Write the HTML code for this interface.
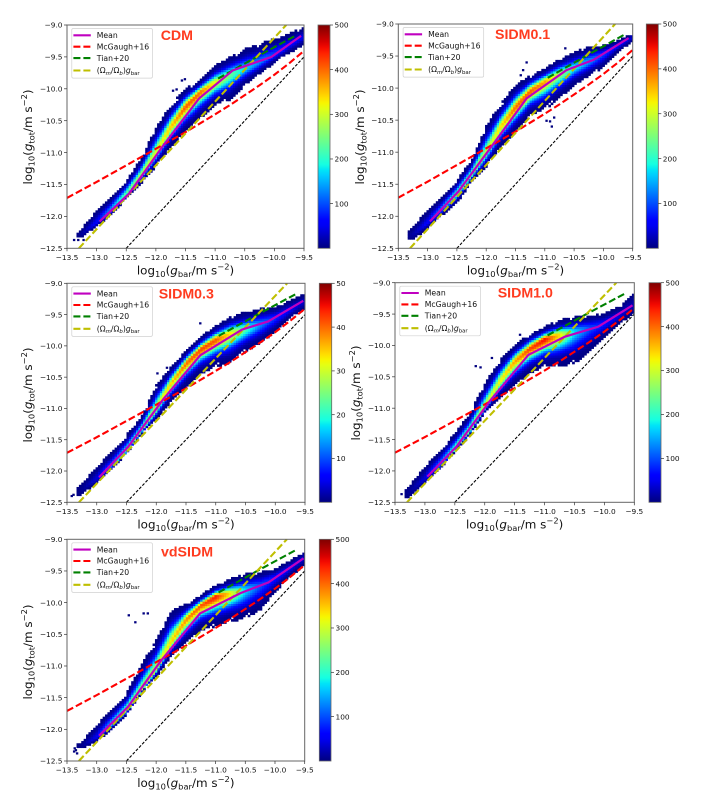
<!DOCTYPE html>
<html>
<head>
<meta charset="utf-8">
<title>Radial acceleration relation panels</title>
<style>
html,body{margin:0;padding:0;background:#fff;width:704px;height:812px;overflow:hidden}
svg{display:block;filter:blur(0.35px)}
text{font-family:"DejaVu Sans","Liberation Sans",sans-serif;fill:#111}
</style>
</head>
<body>
<svg id="figure" width="704" height="812" viewBox="0 0 704 812" xmlns="http://www.w3.org/2000/svg"></svg>
<script>
const xTicks=[-13.5,-13,-12.5,-12,-11.5,-11,-10.5,-10,-9.5];
const yTicks=[-12.5,-12,-11.5,-11,-10.5,-10,-9.5,-9];
const cbarTicks=[100,200,300,400,500];

const gbarBins=[-13.35,-13.25,-13,-12.75,-12.5,-12.25,-12,-11.75,-11.5,-11.25,-11,-10.75,-10.5,-10.25,-10,-9.75,-9.5];

const cdmRidge=[-12.3,-12.27,-12.1,-11.88,-11.65,-11.35,-11,-10.6,-10.28,-10.05,-9.9,-9.78,-9.68,-9.58,-9.45,-9.31,-9.18];
const cdmUpper=[-12.27,-12.19,-11.9,-11.69,-11.43,-11.09,-10.6,-10.25,-9.99,-9.86,-9.63,-9.5,-9.37,-9.29,-9.21,-9.13,-9.03];
const cdmLower=[-12.33,-12.32,-12.16,-11.98,-11.72,-11.48,-11.22,-10.91,-10.67,-10.46,-10.25,-10.18,-9.94,-9.76,-9.6,-9.44,-9.31];
const cdmPeak=[3,12,60,140,240,280,310,350,410,400,320,240,170,130,90,65,45];
const cdmMeanX=[-12.95,-12.45,-11.9,-11.27,-10.7,-10.45,-10.05,-9.55];
const cdmMeanY=[-12.08,-11.64,-10.92,-10.15,-9.71,-9.63,-9.5,-9.17];
const cdmOutX=[-11.56,-11.65,-11.51,-11.71,-13.38,-13.31,-13.22];
const cdmOutY=[-9.87,-10.01,-9.85,-10.03,-12.37,-12.37,-12.37];

const sidm01Ridge=[-12.32,-12.28,-12.1,-11.88,-11.65,-11.35,-11,-10.6,-10.3,-10.05,-9.9,-9.78,-9.68,-9.58,-9.47,-9.33,-9.2];
const sidm01Upper=[-12.25,-12.16,-11.9,-11.69,-11.43,-11.12,-10.58,-10.24,-9.95,-9.8,-9.69,-9.54,-9.43,-9.35,-9.33,-9.25,-9.15];
const sidm01Lower=[-12.36,-12.37,-12.19,-11.98,-11.8,-11.46,-11.23,-10.91,-10.68,-10.42,-10.34,-10.16,-9.95,-9.82,-9.67,-9.43,-9.28];
const sidm01Peak=[3,15,60,140,240,270,290,340,400,410,370,280,190,140,90,60,35];
const sidm01MeanX=[-12.96,-12.48,-11.9,-11.31,-10.63,-10.17,-9.57];
const sidm01MeanY=[-12.08,-11.62,-10.9,-10.16,-9.72,-9.56,-9.22];
const sidm01OutX=[-11.31,-11.37,-11.41,-10.97,-10.88,-10.84,-10.91,-10.65];
const sidm01OutY=[-9.6,-9.72,-9.8,-10.51,-10.6,-10.46,-10.52,-9.38];

const sidm03Ridge=[-12.38,-12.3,-12.12,-11.92,-11.68,-11.35,-11,-10.6,-10.28,-10.05,-9.9,-9.8,-9.73,-9.65,-9.56,-9.42,-9.28];
const sidm03Upper=[-12.3,-12.2,-11.93,-11.69,-11.42,-11.13,-10.62,-10.33,-10.07,-9.85,-9.67,-9.53,-9.45,-9.4,-9.37,-9.27,-9.16];
const sidm03Lower=[-12.42,-12.36,-12.2,-11.98,-11.72,-11.42,-11.18,-10.89,-10.65,-10.44,-10.33,-10.28,-10.09,-9.96,-9.77,-9.56,-9.4];
const sidm03Peak=[3,8,40,130,240,270,310,350,400,420,410,330,220,130,80,50,30];
const sidm03MeanX=[-12.96,-12.47,-11.88,-11.26,-10.56,-10.12,-9.53];
const sidm03MeanY=[-12.1,-11.61,-10.85,-10.15,-9.74,-9.61,-9.28];
const sidm03OutX=[-11.26,-11.98,-11.82,-13.39,-13.42];
const sidm03OutY=[-9.64,-10.44,-10.35,-12.38,-12.4];

const sidm10Ridge=[-12.38,-12.32,-12.12,-11.9,-11.65,-11.35,-10.98,-10.58,-10.25,-10.05,-9.9,-9.83,-9.78,-9.72,-9.65,-9.52,-9.35];
const sidm10Upper=[-12.3,-12.22,-11.93,-11.67,-11.4,-11.08,-10.6,-10.23,-9.99,-9.81,-9.7,-9.59,-9.54,-9.52,-9.49,-9.38,-9.14];
const sidm10Lower=[-12.42,-12.41,-12.2,-11.98,-11.69,-11.43,-11.08,-10.84,-10.63,-10.44,-10.34,-10.34,-10.29,-10.1,-9.86,-9.65,-9.49];
const sidm10Peak=[3,10,40,130,240,270,300,320,370,420,450,340,170,100,70,40,20];
const sidm10MeanX=[-12.96,-12.47,-11.91,-11.27,-10.66,-10.1,-9.53];
const sidm10MeanY=[-12.09,-11.61,-10.88,-10.15,-9.86,-9.7,-9.36];
const sidm10OutX=[-12.15,-12.07,-11.88,-11.41,-13.39];
const sidm10OutY=[-10.33,-10.35,-10.2,-9.83,-12.37];

const vdRidge=[-12.28,-12.27,-12.12,-11.92,-11.7,-11.38,-11.05,-10.63,-10.27,-10.04,-9.9,-9.85,-9.8,-9.72,-9.6,-9.45,-9.28];
const vdUpper=[-12.25,-12.19,-11.93,-11.67,-11.43,-10.98,-10.58,-10.12,-10.01,-9.88,-9.72,-9.62,-9.54,-9.51,-9.46,-9.33,-9.19];
const vdLower=[-12.3,-12.3,-12.19,-12.01,-11.77,-11.43,-11.17,-10.85,-10.64,-10.43,-10.38,-10.3,-10.25,-10.12,-9.83,-9.59,-9.41];
const vdPeak=[1.5,6,50,180,280,300,310,340,380,410,440,330,170,100,70,50,30];
const vdMeanX=[-12.96,-12.47,-11.93,-11.26,-10.58,-10.11,-9.52];
const vdMeanY=[-12.1,-11.64,-10.93,-10.17,-9.85,-9.68,-9.3];
const vdOutX=[-12.46,-12.35,-12.21,-12.14,-13.37,-13.38,-13.33,-13.35];
const vdOutY=[-10.2,-10.31,-10.17,-10.17,-12.3,-12.35,-12.38,-12.33];

const mcgaughX=[-13.5,-13,-12.5,-12,-11.5,-11,-10.75,-10.5,-10.25,-10,-9.75,-9.5];
const mcgaughY=[-11.71,-11.46,-11.2,-10.94,-10.68,-10.4,-10.255,-10.1,-9.945,-9.78,-9.6,-9.405];
const tianX=[-10.95,-10.3,-9.65];
const tianY=[-9.84,-9.5,-9.17];
const cosmicX=[-13.3,-9.8];
const cosmicY=[-12.5,-9];
const unityX=[-12.5,-9.5];
const unityY=[-12.5,-9.5];

const legendLabels=["Mean","McGaugh+16","Tian+20"];

const panels=[
 {id:"cdm",title:"CDM",L:67,R:304,T:25,B:248.3,cL:318,cR:330,tx:160.7,ty:40,ylx:28,yly:137,ridge:cdmRidge,up:cdmUpper,low:cdmLower,peak:cdmPeak,mx:cdmMeanX,my:cdmMeanY,ox:cdmOutX,oy:cdmOutY},
 {id:"sidm01",title:"SIDM0.1",L:398.3,R:632.7,T:24,B:248.3,cL:646.3,cR:658.3,tx:495,ty:39,ylx:360,yly:137,ridge:sidm01Ridge,up:sidm01Upper,low:sidm01Lower,peak:sidm01Peak,mx:sidm01MeanX,my:sidm01MeanY,ox:sidm01OutX,oy:sidm01OutY},
 {id:"sidm03",title:"SIDM0.3",L:67,R:305,T:283.3,B:502.3,cL:319.3,cR:331.7,tx:158.7,ty:298.7,ylx:28,yly:395,ridge:sidm03Ridge,up:sidm03Upper,low:sidm03Lower,peak:sidm03Peak,mx:sidm03MeanX,my:sidm03MeanY,ox:sidm03OutX,oy:sidm03OutY,cbClip:345.6},
 {id:"sidm10",title:"SIDM1.0",L:395,R:634.3,T:282.7,B:502.3,cL:649,cR:661,tx:497.7,ty:297.3,ylx:356,yly:393,ridge:sidm10Ridge,up:sidm10Upper,low:sidm10Lower,peak:sidm10Peak,mx:sidm10MeanX,my:sidm10MeanY,ox:sidm10OutX,oy:sidm10OutY},
 {id:"vdsidm",title:"vdSIDM",L:67,R:304.7,T:539.3,B:761,cL:319.3,cR:331,tx:161,ty:556.7,ylx:28,yly:652,ridge:vdRidge,up:vdUpper,low:vdLower,peak:vdPeak,mx:vdMeanX,my:vdMeanY,ox:vdOutX,oy:vdOutY}
];

const NS="http://www.w3.org/2000/svg";
const svg=document.getElementById("figure");
const defs=document.createElementNS(NS,"defs");
svg.appendChild(defs);

function mk(tag,attrs,parent){
  const el=document.createElementNS(NS,tag);
  for(const k in attrs){el.setAttribute(k,attrs[k]);}
  parent.appendChild(el);
  return el;
}
function piece(stops,t){
  for(let i=1;i<stops.length;i++){
    if(t<=stops[i][0]){
      const a=stops[i-1],b=stops[i];
      return a[1]+(b[1]-a[1])*(t-a[0])/(b[0]-a[0]);
    }
  }
  return stops[stops.length-1][1];
}
const jetR=[[0,0],[.35,0],[.66,1],[.89,1],[1,.5]];
const jetG=[[0,0],[.125,0],[.375,1],[.64,1],[.91,0],[1,0]];
const jetB=[[0,.5],[.11,1],[.34,1],[.65,0],[1,0]];
function jet(t){
  t=Math.max(0,Math.min(1,t));
  return "rgb("+Math.round(255*piece(jetR,t))+","+Math.round(255*piece(jetG,t))+","+Math.round(255*piece(jetB,t))+")";
}
function interp(xs,ys,x){
  for(let i=1;i<xs.length;i++){
    if(x<=xs[i]){
      return ys[i-1]+(ys[i]-ys[i-1])*(x-xs[i-1])/(xs[i]-xs[i-1]);
    }
  }
  return ys[ys.length-1];
}
function fmt(v){
  const s=Math.abs(v).toFixed(1);
  return (v<0?"\u2212":"")+s;
}
function mathText(el,parts,size){
  let off=0;
  parts.forEach(function(p){
    const ts=document.createElementNS(NS,"tspan");
    const mode=p[1];
    let target=0,fs=size;
    if(mode==="sub"||mode==="subi"){target=size*0.22;fs=size*0.7;}
    if(mode==="sup"){target=-size*0.42;fs=size*0.7;}
    ts.setAttribute("dy",(target-off).toFixed(2));
    off=target;
    ts.setAttribute("font-size",fs.toFixed(2));
    if(mode==="i"||mode==="subi"){ts.setAttribute("font-style","italic");}
    ts.textContent=p[0];
    el.appendChild(ts);
  });
}

const stopsGrad=mk("linearGradient",{id:"jetGrad",x1:0,y1:1,x2:0,y2:0},defs);
for(let i=0;i<=40;i++){
  mk("stop",{offset:(i/40),"stop-color":jet(i/40)},stopsGrad);
}

function drawPanel(p){
  const sx=function(x){return p.L+(x+13.5)/4*(p.R-p.L);};
  const sy=function(y){return p.B-(y+12.5)/3.5*(p.B-p.T);};
  const g=mk("g",{},svg);
  
  
  const clip=mk("clipPath",{id:"clip-"+p.id},defs);
  mk("rect",{x:p.L,y:p.T,width:p.R-p.L,height:p.B-p.T},clip);

  const heat=mk("g",{"clip-path":"url(#clip-"+p.id+")"},g);
  
  
  const cw=sx(-13.46)-sx(-13.5),ch=sy(-12.5)-sy(-12.465);
  for(let ix=0;ix<100;ix++){
    const xc=-13.5+(ix+.5)*.04;
    if(xc<gbarBins[0]){continue;}
    const ridge=interp(gbarBins,p.ridge,xc);
    const up=interp(gbarBins,p.up,xc);
    const low=interp(gbarBins,p.low,xc);
    const peak=interp(gbarBins,p.peak,xc);
    for(let iy=0;iy<100;iy++){
      const yc=-12.5+(iy+.5)*.035;
      const d=yc-ridge;
      const e=d>0?(up-ridge):(ridge-low);
      const r=Math.abs(d/e);
      if(r>=1){continue;}
      if(r>.88&&(ix*7+iy*13)%5===0){continue;}
      const v=Math.max(1,Math.pow(peak,1-Math.pow(r,2)));
      const cell=mk("rect",{x:(sx(xc)-cw/2).toFixed(2),y:(sy(yc)-ch/2).toFixed(2),width:(cw+.35).toFixed(2),height:(ch+.35).toFixed(2),fill:jet(v/500)},heat);
      
      
    }
  }
  p.ox.forEach(function(ox,i){
    const cell=mk("rect",{x:(sx(ox)-cw/2).toFixed(2),y:(sy(p.oy[i])-ch/2).toFixed(2),width:cw.toFixed(2),height:ch.toFixed(2),fill:"#00007f"},heat);
    
    
  });

  const lines=mk("g",{"clip-path":"url(#clip-"+p.id+")",fill:"none"},g);
  
  
  const path=function(xs,ys){
    return xs.map(function(x,i){return (i?"L":"M")+sx(x).toFixed(2)+" "+sy(ys[i]).toFixed(2);}).join(" ");
  };
  const unity=mk("path",{d:path(unityX,unityY),stroke:"#000","stroke-width":1.1,"stroke-dasharray":"3 1.6"},lines);
  
  
  const mcg=mk("path",{d:path(mcgaughX,mcgaughY),stroke:"#ff0000","stroke-width":2.1,"stroke-dasharray":"7 3"},lines);
  
  
  const tian=mk("path",{d:path(tianX,tianY),stroke:"#008000","stroke-width":2.1,"stroke-dasharray":"7 3"},lines);
  
  
  const cosmic=mk("path",{d:path(cosmicX,cosmicY),stroke:"#bfbf00","stroke-width":2.1,"stroke-dasharray":"7 3"},lines);
  
  
  const mean=mk("path",{d:path(p.mx,p.my),stroke:"#c000c0","stroke-width":2.2},lines);
  
  

  const frame=mk("rect",{x:p.L,y:p.T,width:p.R-p.L,height:p.B-p.T,fill:"none",stroke:"#666","stroke-width":1},g);
  
  

  xTicks.forEach(function(t){
    const tick=mk("line",{x1:sx(t),x2:sx(t),y1:p.B,y2:p.B+3,stroke:"#333","stroke-width":.7},g);
    
    
    const lab=mk("text",{x:sx(t),y:p.B+11.5,"font-size":7.4,"text-anchor":"middle"},g);
    
    
    lab.textContent=fmt(t);
  });
  yTicks.forEach(function(t){
    const tick=mk("line",{x1:p.L-3,x2:p.L,y1:sy(t),y2:sy(t),stroke:"#333","stroke-width":.7},g);
    
    
    const lab=mk("text",{x:p.L-4.5,y:sy(t)+2.7,"font-size":7.4,"text-anchor":"end"},g);
    
    
    lab.textContent=fmt(t);
  });

  const xl=mk("text",{x:(p.L+p.R)/2,y:p.B+26,"text-anchor":"middle"},g);
  
  
  mathText(xl,[["log","n"],["10","sub"],["(","n"],["g","i"],["bar","sub"],["/m s","n"],["\u22122","sup"],[")","n"]],11.9);
  const yl=mk("text",{x:0,y:0,"text-anchor":"middle",transform:"translate("+(p.ylx+4)+" "+p.yly+") rotate(-90)"},g);
  
  
  mathText(yl,[["log","n"],["10","sub"],["(","n"],["g","i"],["tot","sub"],["/m s","n"],["\u22122","sup"],[")","n"]],11.9);

  const title=mk("text",{x:p.tx,y:p.ty,"font-size":14.2,"font-weight":"bold",style:"font-family:'Liberation Sans',sans-serif;fill:#ff3b1f"},g);
  
  
  title.textContent=p.title;

  const lg=mk("g",{},g);
  
  
  const bx=p.L+4.8,by=p.T+3.5;
  const box=mk("rect",{x:bx,y:by,width:80.6,height:49.6,rx:1.5,fill:"#fff","fill-opacity":.85,stroke:"#d0d0d0","stroke-width":.7},lg);
  
  
  const rows=[6.8,18.2,29.6,42];
  const styles=[["#c000c0",""],["#ff0000","7 3"],["#008000","7 3"],["#bfbf00","7 3"]];
  rows.forEach(function(dy,i){
    const h=mk("line",{x1:bx+1.6,x2:bx+19,y1:by+dy,y2:by+dy,stroke:styles[i][0],"stroke-width":2.1,"stroke-dasharray":styles[i][1]||"none"},lg);
    
    
    const t=mk("text",{x:bx+25,y:by+dy+2.7},lg);
    
    
    if(i<3){
      t.setAttribute("font-size","7.7");
      t.textContent=legendLabels[i];
    }else{
      mathText(t,[["(\u03A9","n"],["m","subi"],["/\u03A9","n"],["b","subi"],[")","n"],["g","i"],["bar","sub"]],7.7);
    }
  });

  const cb=mk("g",{},g);
  
  
  const bar=mk("rect",{x:p.cL,y:p.T,width:p.cR-p.cL,height:p.B-p.T,fill:"url(#jetGrad)",stroke:"#666","stroke-width":.8},cb);
  
  
  if(p.cbClip){
    const c2=mk("clipPath",{id:"cbclip-"+p.id},defs);
    mk("rect",{x:p.cL,y:p.T-10,width:p.cbClip-p.cL,height:p.B-p.T+20},c2);
  }
  cbarTicks.forEach(function(v){
    const y=p.B-(v/500)*(p.B-p.T);
    const tick=mk("line",{x1:p.cR,x2:p.cR+3,y1:y,y2:y,stroke:"#333","stroke-width":.7},cb);
    
    
    const lab=mk("text",{x:p.cR+4.5,y:y+2.7,"font-size":7.4},cb);
    
    
    if(p.cbClip){lab.setAttribute("clip-path","url(#cbclip-"+p.id+")");}
    lab.textContent=String(v);
  });
}
panels.forEach(drawPanel);
</script>
</body>
</html>
